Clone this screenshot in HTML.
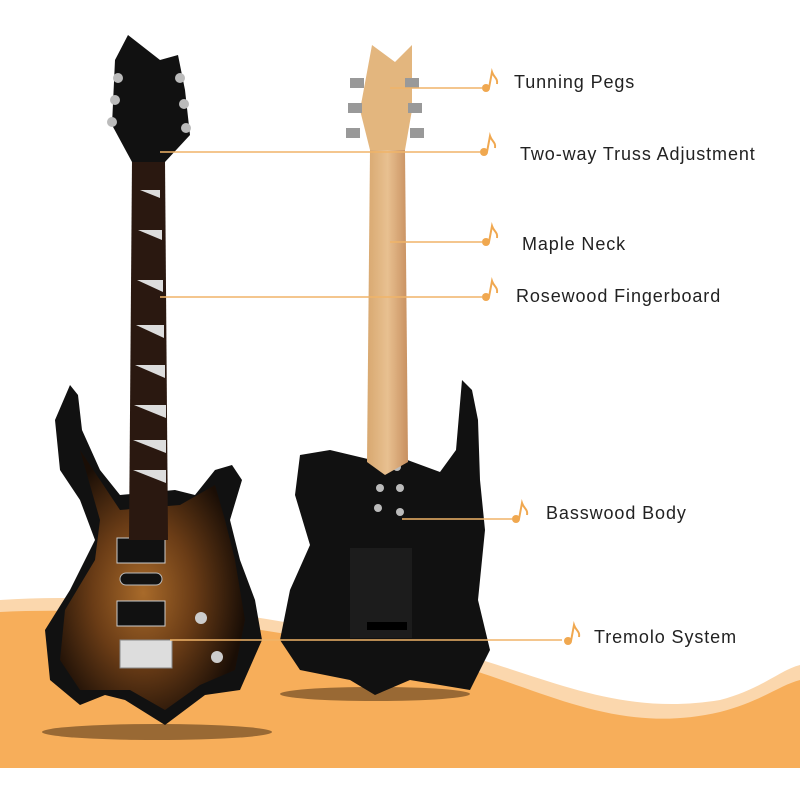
<!DOCTYPE html>
<html><head><style>
body{margin:0;width:800px;height:800px;overflow:hidden;background:#fff;}
svg{display:block}
text{font-family:"Liberation Sans",sans-serif;font-size:18px;fill:#222;letter-spacing:0.9px}
</style></head><body>
<svg width="800" height="800" viewBox="0 0 800 800">
<defs>
<radialGradient id="sb" cx="0.45" cy="0.55" r="0.55">
<stop offset="0" stop-color="#a86a2a"/><stop offset="0.5" stop-color="#6a3c16"/><stop offset="1" stop-color="#1a0e06"/>
</radialGradient>
<linearGradient id="mp" x1="0" x2="1"><stop offset="0" stop-color="#d8a870"/><stop offset="0.5" stop-color="#e8c090"/><stop offset="1" stop-color="#c89060"/></linearGradient>
</defs>
<path d="M0 600 C150 590 250 620 400 640 C520 660 600 720 720 700 C760 690 780 670 800 665 L800 768 L0 768 Z" fill="#fbd7ad"/>
<path d="M0 612 C150 605 250 630 400 652 C520 672 600 740 720 712 C760 702 780 685 800 680 L800 768 L0 768 Z" fill="#f7ae5a"/>
<ellipse cx="157" cy="732" rx="115" ry="8" fill="#5a3a1a" opacity="0.6"/>
<ellipse cx="375" cy="694" rx="95" ry="7" fill="#5a3a1a" opacity="0.6"/>
<path d="M70 385 L55 420 L60 470 L80 500 L95 540 L70 590 L45 630 L50 680 L80 705 L105 695 L125 700 L165 725 L205 695 L240 690 L262 640 L255 600 L240 560 L230 520 L242 480 L232 465 L215 470 L195 495 L175 490 L120 495 L100 470 L82 430 L78 395 Z" fill="#111"/>
<path d="M80 450 L100 480 L120 510 L180 505 L215 485 L225 520 L235 560 L245 620 L235 670 L200 685 L165 710 L130 690 L80 690 L60 660 L65 610 L95 560 L100 520 Z" fill="url(#sb)"/>
<rect x="117" y="538" width="48" height="25" fill="#111" stroke="#ccc" stroke-width="1"/>
<rect x="120" y="573" width="42" height="12" rx="6" fill="#111" stroke="#bbb"/>
<rect x="117" y="601" width="48" height="25" fill="#111" stroke="#ccc"/>
<rect x="120" y="640" width="52" height="28" fill="#ddd" stroke="#888"/>
<circle cx="201" cy="618" r="6" fill="#ccc"/><circle cx="217" cy="657" r="6" fill="#ccc"/>
<path d="M132 160 L165 160 L168 540 L129 540 Z" fill="#2a1810"/>
<g fill="#ddd">
<polygon points="140,190 160,190 160,198"/><polygon points="138,230 162,230 162,240"/><polygon points="137,280 163,280 163,292"/><polygon points="136,325 164,325 164,338"/><polygon points="135,365 165,365 165,378"/><polygon points="134,405 166,405 166,418"/><polygon points="133,440 166,440 166,453"/><polygon points="133,470 166,470 166,483"/>
</g>
<path d="M128 35 L160 60 L178 55 L185 90 L190 135 L165 162 L132 162 L112 125 L115 60 Z" fill="#111"/>
<g fill="#bbb"><circle cx="118" cy="78" r="5"/><circle cx="115" cy="100" r="5"/><circle cx="112" cy="122" r="5"/><circle cx="180" cy="78" r="5"/><circle cx="184" cy="104" r="5"/><circle cx="186" cy="128" r="5"/></g>
<path d="M300 455 L330 450 L372 460 L402 458 L440 472 L456 450 L462 380 L472 390 L478 420 L480 480 L485 530 L478 600 L490 650 L470 690 L440 685 L410 680 L375 695 L350 680 L300 670 L280 640 L290 590 L310 545 L295 495 Z" fill="#111"/>
<rect x="350" y="548" width="62" height="90" fill="#1c1c1c"/>
<rect x="367" y="622" width="40" height="8" fill="#000"/>
<g fill="#bbb"><circle cx="380" cy="488" r="4"/><circle cx="400" cy="488" r="4"/><circle cx="378" cy="508" r="4"/><circle cx="400" cy="512" r="4"/><circle cx="397" cy="467" r="4"/></g>
<path d="M370 150 L405 150 L408 462 L385 475 L367 462 Z" fill="url(#mp)"/>
<path d="M372 45 L395 62 L412 45 L412 110 L405 150 L370 150 L360 110 Z" fill="#e3b67e"/>
<g fill="#999"><rect x="350" y="78" width="14" height="10"/><rect x="348" y="103" width="14" height="10"/><rect x="346" y="128" width="14" height="10"/><rect x="405" y="78" width="14" height="10"/><rect x="408" y="103" width="14" height="10"/><rect x="410" y="128" width="14" height="10"/></g>
<g stroke="#f0b468" stroke-width="1.5">
<line x1="390" y1="88" x2="482" y2="88"/>
<line x1="160" y1="152" x2="480" y2="152"/>
<line x1="390" y1="242" x2="482" y2="242"/>
<line x1="160" y1="297" x2="482" y2="297"/>
<line x1="402" y1="519" x2="512" y2="519"/>
<line x1="170" y1="640" x2="562" y2="640"/>
</g>
<g fill="#f0a850" stroke="#f0a850">
<g transform="translate(486,88)"><circle r="4" stroke="none"/><path d="M3 0 L6 -16 C8 -10 12 -10 11 -4" fill="none" stroke-width="2"/></g>
<g transform="translate(484,152)"><circle r="4" stroke="none"/><path d="M3 0 L6 -16 C8 -10 12 -10 11 -4" fill="none" stroke-width="2"/></g>
<g transform="translate(486,242)"><circle r="4" stroke="none"/><path d="M3 0 L6 -16 C8 -10 12 -10 11 -4" fill="none" stroke-width="2"/></g>
<g transform="translate(486,297)"><circle r="4" stroke="none"/><path d="M3 0 L6 -16 C8 -10 12 -10 11 -4" fill="none" stroke-width="2"/></g>
<g transform="translate(516,519)"><circle r="4" stroke="none"/><path d="M3 0 L6 -16 C8 -10 12 -10 11 -4" fill="none" stroke-width="2"/></g>
<g transform="translate(568,641)"><circle r="4" stroke="none"/><path d="M3 0 L6 -16 C8 -10 12 -10 11 -4" fill="none" stroke-width="2"/></g>
</g>
<text x="514" y="88">Tunning Pegs</text>
<text x="520" y="160">Two-way Truss Adjustment</text>
<text x="522" y="250">Maple Neck</text>
<text x="516" y="302">Rosewood Fingerboard</text>
<text x="546" y="519">Basswood Body</text>
<text x="594" y="643">Tremolo System</text>
</svg>
</body></html>
